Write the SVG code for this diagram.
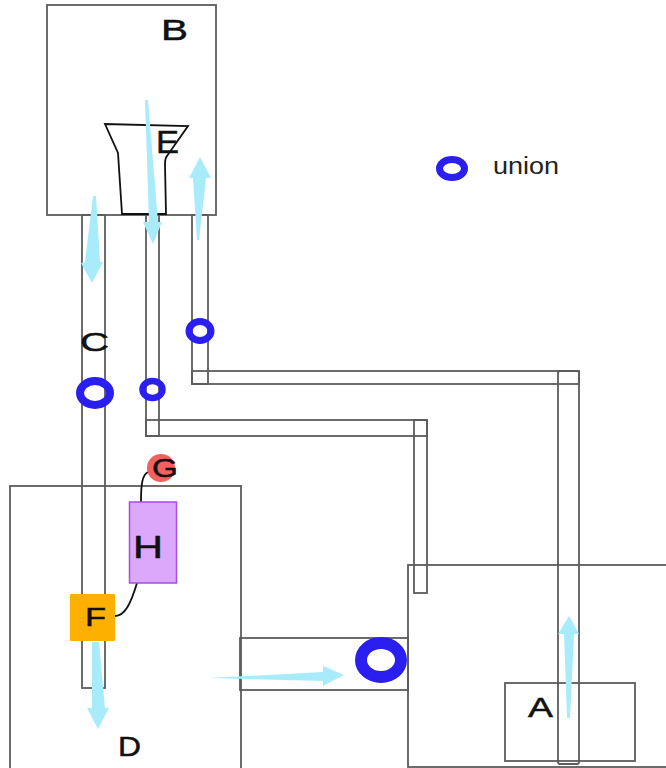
<svg xmlns="http://www.w3.org/2000/svg" width="666" height="768" viewBox="0 0 666 768">
<style>
.o{fill:none;stroke:#5c5c5c;stroke-width:1.800}
.a{fill:#a8ecfb;stroke:none}
.u{fill:none;stroke:#2a1ff0}
.t{font-family:"Liberation Sans",Arial,sans-serif;fill:#111;stroke:#111;stroke-width:.5}
.w{fill:none;stroke:#111;stroke-width:1.800}
</style>
<rect width="666" height="768" fill="#fff"/>
<g id="node-B"><rect class="o" x="47" y="5" width="169" height="210"/><text class="t" x="161" y="40" font-size="30" textLength="27" lengthAdjust="spacingAndGlyphs">B</text></g>
<g id="node-D"><rect class="o" x="10" y="486" width="231" height="290"/><text class="t" x="118" y="756" font-size="27" textLength="23" lengthAdjust="spacingAndGlyphs">D</text></g>
<g id="node-tank"><rect class="o" x="408" y="565" width="270" height="202"/></g>
<g id="node-A"><rect class="o" x="505" y="683" width="130" height="78"/><text class="t" x="528" y="717" font-size="27" textLength="25" lengthAdjust="spacingAndGlyphs">A</text></g>
<g id="connectors">
<rect class="o" x="82" y="215" width="23" height="473"/>
<rect class="o" x="146" y="215" width="13" height="221"/>
<rect class="o" x="146" y="420" width="281" height="16"/>
<rect class="o" x="414" y="420" width="13" height="173"/>
<rect class="o" x="192" y="215" width="16" height="169"/>
<rect class="o" x="192" y="371" width="387" height="13"/>
<rect class="o" x="558" y="371" width="21" height="393" rx="2"/>
<rect class="o" x="240" y="638" width="168" height="52"/>
<path class="w" d="M122 214L118 153L105 124L188 126L167 156Q165 158 165 165L166 214Z"/>
<path class="w" d="M141 502C141 485 142 475 148 472"/>
<path class="w" d="M137 583C131 603 125 616 115 616"/>
<polygon class="a" points="93,196 96,196 100,262 103,262 92,283 81,263 85,262"/>
<polygon class="a" points="145,100 148,100 158,222 162,222 153,244 143,222 149,222"/>
<polygon class="a" points="197,240 199,240 206,178 211,178 200,157 189,178 193,178"/>
<polygon class="a" points="92,642 99,642 105,708 109,708 98,729 87,708 92,708"/>
<polygon class="a" points="209,678 323,672 323,666 344,675 323,686 323,681"/>
<polygon class="a" points="567,718 570,718 574,634 579,634 569,616 558,634 564,634"/>
</g>
<g id="union-legend"><ellipse class="u" cx="452" cy="168.500" rx="12.500" ry="9" stroke-width="7"/><text x="493" y="174" font-family="Liberation Sans, Arial, sans-serif" font-size="23" fill="#222" textLength="66" lengthAdjust="spacingAndGlyphs">union</text></g>
<g id="union-1"><ellipse class="u" cx="95" cy="393" rx="15" ry="12" stroke-width="8"/></g>
<g id="union-2"><ellipse class="u" cx="152.500" cy="389.500" rx="10" ry="8.500" stroke-width="6.500"/></g>
<g id="union-3"><ellipse class="u" cx="200" cy="331" rx="11" ry="9.500" stroke-width="7"/></g>
<g id="union-4"><ellipse class="u" cx="381" cy="660" rx="20" ry="17" stroke-width="12"/></g>
<g id="node-E"><text class="t" x="156" y="153" font-size="31" textLength="23" lengthAdjust="spacingAndGlyphs">E</text></g>
<g id="node-C"><text class="t" x="80" y="351" font-size="26" textLength="29" lengthAdjust="spacingAndGlyphs">C</text></g>
<g id="node-G"><circle cx="161" cy="468" r="14" fill="#f2605f"/><text class="t" x="152" y="477" font-size="26" textLength="26" lengthAdjust="spacingAndGlyphs">G</text></g>
<g id="node-H"><rect x="129.500" y="502" width="47" height="81" fill="#dba8fb" stroke="#a84be8" stroke-width="1.500"/><text class="t" x="133" y="558" font-size="32" textLength="30" lengthAdjust="spacingAndGlyphs">H</text></g>
<g id="node-F"><rect x="70" y="594" width="45" height="47" rx="1" fill="#fdb000"/><text class="t" x="85" y="626" font-size="25" textLength="21" lengthAdjust="spacingAndGlyphs">F</text></g>
</svg>
